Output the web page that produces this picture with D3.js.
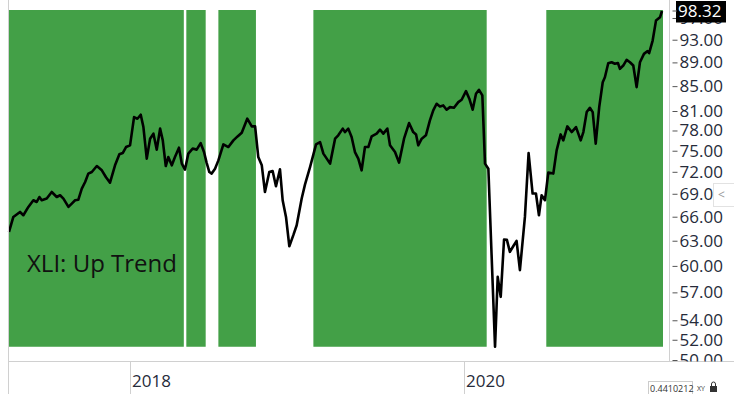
<!DOCTYPE html>
<html>
<head>
<meta charset="utf-8">
<script src="https://cdn.jsdelivr.net/npm/d3@7"></script>
<style>
  html, body { margin: 0; padding: 0; background: #fff; }
  svg { display: block; font-family: 'Open Sans', sans-serif; }
</style>
</head>
<body>
<div id="content"></div>
<script>
// Fechas en años decimales y precio de cierre de XLI
const years = [
  2017.275, 2017.301, 2017.341, 2017.361, 2017.391, 2017.421, 2017.441, 2017.457, 2017.471, 2017.501,
  2017.531, 2017.561, 2017.581, 2017.601, 2017.631, 2017.651, 2017.671, 2017.690, 2017.711, 2017.731,
  2017.750, 2017.771, 2017.801, 2017.831, 2017.856, 2017.880, 2017.910, 2017.936, 2017.956, 2017.976,
  2018.000, 2018.024, 2018.044, 2018.064, 2018.080, 2018.100, 2018.120, 2018.140, 2018.160, 2018.180,
  2018.196, 2018.214, 2018.229, 2018.250, 2018.269, 2018.293, 2018.310, 2018.329, 2018.349, 2018.375,
  2018.399, 2018.423, 2018.443, 2018.458, 2018.475, 2018.489, 2018.509, 2018.529, 2018.559, 2018.589,
  2018.619, 2018.644, 2018.669, 2018.702, 2018.729, 2018.749, 2018.768, 2018.789, 2018.808, 2018.834,
  2018.854, 2018.874, 2018.898, 2018.914, 2018.934, 2018.954, 2018.978, 2018.998, 2019.028, 2019.048,
  2019.078, 2019.114, 2019.138, 2019.158, 2019.198, 2019.228, 2019.247, 2019.274, 2019.287, 2019.307,
  2019.327, 2019.347, 2019.367, 2019.387, 2019.407, 2019.427, 2019.447, 2019.477, 2019.497, 2019.517,
  2019.541, 2019.557, 2019.587, 2019.611, 2019.641, 2019.671, 2019.696, 2019.713, 2019.726, 2019.747,
  2019.772, 2019.796, 2019.816, 2019.836, 2019.856, 2019.876, 2019.896, 2019.916, 2019.940, 2019.966,
  2019.986, 2020.012, 2020.032, 2020.052, 2020.072, 2020.090, 2020.110, 2020.126, 2020.146, 2020.186,
  2020.202, 2020.220, 2020.240, 2020.257, 2020.275, 2020.295, 2020.315, 2020.335, 2020.365, 2020.387,
  2020.411, 2020.431, 2020.449, 2020.465, 2020.485, 2020.505, 2020.535, 2020.555, 2020.579, 2020.595,
  2020.619, 2020.645, 2020.671, 2020.699, 2020.715, 2020.735, 2020.754, 2020.771, 2020.789, 2020.810,
  2020.831, 2020.844, 2020.864, 2020.884, 2020.904, 2020.922, 2020.934, 2020.954, 2020.974, 2020.994,
  2021.014, 2021.034, 2021.054, 2021.078, 2021.098, 2021.109, 2021.130, 2021.150, 2021.174, 2021.186
];
const prices = [
  64.08, 65.97, 66.61, 66.19, 67.26, 68.14, 67.91, 68.57, 68.14, 68.36,
  69.24, 68.57, 68.80, 68.36, 67.26, 67.70, 68.14, 68.20, 69.69, 70.59,
  71.75, 71.97, 72.81, 72.21, 71.24, 70.51, 72.91, 74.48, 74.67, 75.54,
  75.79, 80.05, 79.80, 80.42, 78.52, 73.86, 76.77, 77.52, 75.16, 78.28,
  76.52, 72.81, 74.09, 72.91, 74.09, 75.45, 73.15, 72.31, 74.58, 75.31,
  75.16, 76.12, 74.81, 73.33, 71.97, 71.75, 72.44, 73.61, 75.93, 75.54,
  76.52, 77.11, 77.67, 79.80, 78.62, 78.62, 74.09, 72.91, 69.24, 71.97,
  72.11, 70.01, 72.35, 68.14, 65.97, 62.33, 63.68, 64.92, 68.36, 70.27,
  72.67, 75.93, 76.27, 74.58, 73.15, 76.77, 77.27, 78.28, 77.76, 78.28,
  77.01, 74.81, 73.86, 72.21, 75.54, 75.54, 77.11, 77.52, 78.12, 77.52,
  78.28, 75.79, 74.81, 73.29, 76.77, 79.13, 77.76, 77.41, 75.79, 76.77,
  77.27, 79.54, 81.10, 82.15, 81.72, 81.88, 81.20, 81.61, 81.51, 82.40,
  82.79, 84.18, 82.95, 81.20, 83.75, 84.40, 83.48, 73.15, 72.44, 51.30,
  58.74, 56.51, 63.15, 63.10, 61.66, 62.33, 62.98, 59.51, 65.97, 74.67,
  69.03, 69.03, 66.19, 68.80, 68.14, 71.89, 71.75, 75.06, 77.41, 76.52,
  78.62, 77.76, 78.52, 76.52, 77.76, 80.83, 81.51, 80.83, 76.03, 81.61,
  85.65, 86.48, 88.85, 89.03, 88.76, 88.89, 87.90, 88.46, 89.44, 89.03,
  88.46, 84.83, 89.03, 90.48, 90.95, 90.60, 92.85, 96.51, 97.13, 98.32
];

// Periodos en tendencia alcista (bandas verdes)
const bandStart = [2017.275, 2018.337, 2018.529, 2019.098, 2020.493];
const bandEnd = [2018.322, 2018.453, 2018.754, 2020.136, 2021.192];

const yTicks = [50, 52, 54, 57, 60, 63, 66, 69, 72, 75, 78, 81, 85, 89, 93, 97];
const xTicks = [2018, 2020];
const lastLabel = '98.32';
const trendLabel = 'XLI: Up Trend';
const cornerLabel = '0.4410212';

document.addEventListener('DOMContentLoaded', () => {
    drawSVG();
});

const drawSVG = () => {
    const width = 734;
    const height = 394;
    const axisY = 361.5;     // linea inferior del area del grafico
    const plotRight = 669.5; // linea del eje de precios

    const data = years.map((t, i) => ({ t: t, v: prices[i] }));
    const [minV, maxV] = d3.extent(prices);

    const svg = d3.select('#content')
                  .append('svg')
                  .attr('width', width)
                  .attr('height', height);

    const x = d3.scaleLinear()
                .domain([years[0], years[years.length - 1]])
                .range([9, 662]);

    const y = d3.scaleLog()
                .domain([50, maxV])
                .range([360, 11]);

    // Bandas verdes (desde el maximo hasta el minimo de la serie)
    svg.append('g')
       .selectAll('rect')
       .data(bandStart.map((s, i) => [s, bandEnd[i]]))
       .enter()
       .append('rect')
       .attr('x', d => x(d[0]))
       .attr('y', y(maxV) - 1)
       .attr('width', d => x(d[1]) - x(d[0]))
       .attr('height', y(minV) - y(maxV) + 1)
       .attr('fill', '#43a047');

    // Linea de precio
    const line = d3.line()
                   .x(d => x(d.t))
                   .y(d => y(d.v));

    svg.append('path')
       .datum(data)
       .attr('d', line)
       .attr('fill', 'none')
       .attr('stroke', '#000')
       .attr('stroke-width', 2.6)
       .attr('stroke-linejoin', 'round');

    svg.append('text')
       .attr('x', 27)
       .attr('y', 272)
       .attr('fill', '#111')
       .style('font-size', '24px')
       .text(trendLabel);

    // Marco: izquierda, derecha y linea inferior
    svg.append('line')
       .attr('x1', 8.5).attr('x2', 8.5)
       .attr('y1', 0).attr('y2', height)
       .attr('stroke', '#d0d0d0');
    svg.append('line')
       .attr('x1', plotRight).attr('x2', plotRight)
       .attr('y1', 0).attr('y2', axisY)
       .attr('stroke', '#d0d0d0');
    svg.append('line')
       .attr('x1', 8).attr('x2', width)
       .attr('y1', axisY).attr('y2', axisY)
       .attr('stroke', '#d0d0d0');

    // Eje de precios (escala logaritmica), recortado en la linea inferior
    svg.append('clipPath')
       .attr('id', 'yclip')
       .append('rect')
       .attr('x', plotRight).attr('y', 0)
       .attr('width', width - plotRight).attr('height', axisY);

    const yAxis = d3.axisRight(y)
                    .tickValues(yTicks)
                    .tickSize(5)
                    .tickPadding(2)
                    .tickFormat(d3.format('.2f'));

    const yG = svg.append('g')
                  .attr('clip-path', 'url(#yclip)')
                  .append('g')
                  .attr('transform', `translate(${plotRight + 3},0)`)
                  .call(yAxis);
    yG.select('.domain').remove();
    yG.selectAll('line').attr('stroke', '#555');
    yG.selectAll('text')
      .attr('fill', '#262b3a')
      .style('font-family', "'Open Sans', sans-serif")
      .style('font-size', '17px');

    // Etiqueta del ultimo precio (tapa casi toda la etiqueta 97.00)
    const lastY = y(maxV);
    svg.append('rect')
       .attr('x', 676).attr('y', lastY - 10)
       .attr('width', 50).attr('height', 21.5)
       .attr('fill', '#000');
    svg.append('line')
       .attr('x1', plotRight + 3).attr('x2', 677)
       .attr('y1', lastY).attr('y2', lastY)
       .attr('stroke', '#555');
    svg.append('text')
       .attr('x', 678)
       .attr('y', lastY)
       .attr('dy', '0.35em')
       .attr('fill', '#fff')
       .style('font-size', '17px')
       .text(lastLabel);

    // Boton pequeño "<" junto al eje
    svg.append('rect')
       .attr('x', 713.5).attr('y', 183.5)
       .attr('width', 22).attr('height', 23)
       .attr('fill', '#fff')
       .attr('stroke', '#e2e2e2');
    svg.append('text')
       .attr('x', 718)
       .attr('y', 199)
       .attr('fill', '#999')
       .style('font-size', '12px')
       .text('<');

    // Eje de tiempo
    const xAxisG = svg.append('g');
    xAxisG.selectAll('line')
          .data(xTicks)
          .enter()
          .append('line')
          .attr('x1', d => Math.round(x(d)) + 0.5)
          .attr('x2', d => Math.round(x(d)) + 0.5)
          .attr('y1', axisY).attr('y2', height)
          .attr('stroke', '#d0d0d0');
    xAxisG.selectAll('text')
          .data(xTicks)
          .enter()
          .append('text')
          .attr('x', d => x(d) + 2)
          .attr('y', 387)
          .attr('fill', '#262b3a')
          .style('font-size', '17px')
          .text(d => d);

    // Caja de la esquina inferior derecha
    svg.append('rect')
       .attr('x', 648.5).attr('y', 381.5)
       .attr('width', 44).attr('height', 13)
       .attr('fill', '#fff')
       .attr('stroke', '#ccc');
    svg.append('text')
       .attr('x', 650)
       .attr('y', 392)
       .attr('fill', '#333')
       .style('font-size', '9px')
       .text(cornerLabel);
    svg.append('text')
       .attr('x', 697)
       .attr('y', 391)
       .attr('fill', '#333')
       .style('font-size', '7px')
       .text('XY');
    svg.append('rect')
       .attr('x', 710).attr('y', 386)
       .attr('width', 7).attr('height', 6)
       .attr('fill', '#333');
    svg.append('path')
       .attr('d', 'M711.5,386 v-2 a2,2 0 0 1 4,0 v2')
       .attr('fill', 'none')
       .attr('stroke', '#333');
};
</script>
</body>
</html>
